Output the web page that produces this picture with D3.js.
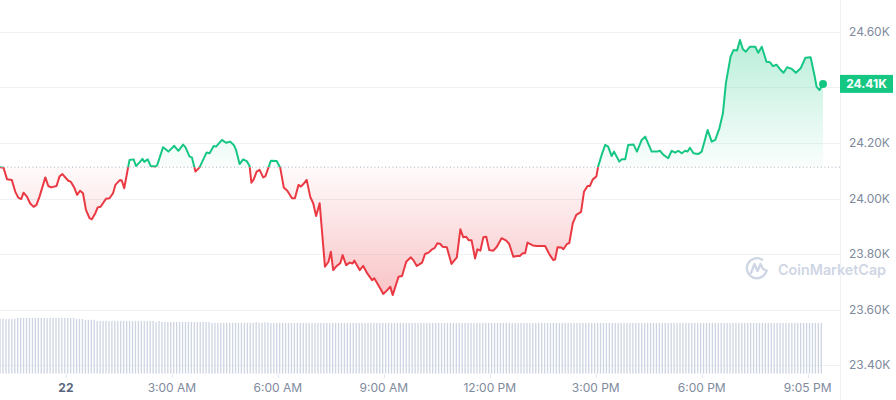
<!DOCTYPE html>
<html><head><meta charset="utf-8">
<script src="https://cdn.jsdelivr.net/npm/d3@7/dist/d3.min.js"></script>
<style>
html,body{margin:0;padding:0;background:#fff;}
svg{display:block;font-family:Inter,"Noto Sans",sans-serif;}
</style>
</head><body>
<svg id="chart" width="896" height="400"></svg>
<script>
// minutes relative to 00:00 on the 22nd
const times = [-112,-106,-100,-92,-86,-81,-76,-72,-66,-61,-55,-50,-45,-35,-30,-25,-16,-11,-6,4,
8,14,19,24,29,34,40,44,50,54,59,68,74,80,84,92,95,99,108,115,
119,125,130,133,139,144,152,155,165,171,174,184,191,199,203,210,214,220,227,239,
244,251,255,265,272,279,285,289,295,301,307,312,315,319,324,329,335,339,348,358,
364,370,376,384,389,395,399,403,409,415,420,425,431,440,446,450,454,460,466,470,
476,482,487,490,499,505,511,520,524,534,539,545,551,555,565,571,578,586,590,596,
605,610,616,622,626,631,636,640,647,655,664,670,675,680,684,689,695,699,704,709,
714,719,726,732,740,748,753,760,766,771,776,780,784,793,800,814,822,828,831,835,
842,845,851,855,861,867,875,880,886,890,895,901,904,910,916,921,927,931,940,944,
950,955,964,970,978,984,995,1004,1009,1015,1023,1029,1035,1040,1046,1052,1056,1060,1066,1074,
1080,1090,1097,1103,1110,1116,1121,1129,1134,1140,1145,1150,1155,1162,1171,1176,1182,1190,1196,1201,
1207,1213,1219,1225,1233,1240,1248,1256,1265,1272,1275,1280,1286];
// price, USD
const prices = [24113,24111,24069,24067,24024,24003,23998,24021,24006,23983,23970,23977,24006,24076,24045,24040,24045,24079,24088,24064,
24061,24040,24013,24028,24019,23959,23929,23925,23947,23968,23970,23999,24001,24019,24049,24067,24064,24037,24139,24141,
24117,24130,24143,24132,24141,24117,24115,24120,24185,24175,24169,24190,24172,24194,24185,24151,24148,24097,24112,24166,
24163,24189,24187,24211,24201,24205,24193,24175,24124,24141,24135,24117,24057,24069,24097,24103,24076,24081,24136,24135,
24111,24040,24028,24001,24001,24049,24043,24051,24067,24006,23983,23937,23983,23754,23772,23808,23742,23757,23767,23796,
23760,23769,23766,23776,23742,23757,23733,23706,23712,23676,23656,23668,23682,23652,23718,23721,23772,23788,23778,23757,
23769,23800,23805,23817,23821,23839,23836,23826,23824,23764,23788,23889,23860,23862,23850,23850,23784,23817,23812,23860,
23862,23814,23812,23826,23857,23848,23836,23790,23793,23793,23803,23803,23841,23831,23829,23829,23796,23778,23781,23824,
23823,23817,23836,23839,23911,23941,23952,24024,24045,24045,24069,24079,24115,24157,24193,24187,24153,24169,24133,24141,
24141,24193,24195,24169,24211,24223,24169,24169,24172,24157,24145,24172,24165,24172,24163,24172,24169,24183,24163,24160,
24169,24247,24205,24211,24253,24307,24415,24511,24535,24533,24571,24538,24529,24547,24547,24525,24547,24493,24491,24477,
24482,24466,24453,24473,24467,24453,24469,24507,24509,24439,24403,24391,24413];
// 24h volume, $B, as [number of 5-minute bars, value]
const volumeRuns = [[6,17.2],[20,17.5],[3,17.2],[4,16.9],[20,16.55],[1,16.2],[1,16.55],[17,16.25],[15,15.95],[1,16.2],[2,15.95],[2,16.1],[188,15.9]];
const priceTicks = [23400,23600,23800,24000,24200,24400,24600];
const priceTickLabels = ["23.40K","23.60K","23.80K","24.00K","24.20K","24.40K","24.60K"];
const timeTicks = [0,180,360,540,720,900,1080,1260];
const timeTickLabels = ["22","3:00 AM","6:00 AM","9:00 AM","12:00 PM","3:00 PM","6:00 PM","9:05 PM"];
const lastPriceLabel = "24.41K";

const GREEN = "#16c784", RED = "#ea3943";
const svg = d3.select("#chart");
const plotRight = 840;

const x = d3.scaleLinear().domain([times[0], times[times.length-1]]).range([0, 823]);
const y = d3.scaleLinear().domain([23400, 24600]).range([365, 32]);
const yv = d3.scaleLinear().domain([0, 20]).range([373.5, 310]);

const data = times.map((t,i)=>({t, p: prices[i]}));
const base = prices[0];
const y0 = y(base);
const last = data[data.length-1];
const yLast = y(last.p);

const defs = svg.append("defs");
defs.append("clipPath").attr("id","clipAbove").append("rect").attr("x",0).attr("y",0).attr("width",plotRight).attr("height",y0);
defs.append("clipPath").attr("id","clipBelow").append("rect").attr("x",0).attr("y",y0).attr("width",plotRight).attr("height",400-y0);
const gG = defs.append("linearGradient").attr("id","gGreen").attr("gradientUnits","userSpaceOnUse")
  .attr("x1",0).attr("x2",0).attr("y1",y(d3.max(prices))).attr("y2",y0);
gG.append("stop").attr("offset",0).attr("stop-color",GREEN).attr("stop-opacity",0.3);
gG.append("stop").attr("offset",1).attr("stop-color",GREEN).attr("stop-opacity",0.02);
const gR = defs.append("linearGradient").attr("id","gRed").attr("gradientUnits","userSpaceOnUse")
  .attr("x1",0).attr("x2",0).attr("y1",y0).attr("y2",y(d3.min(prices)));
gR.append("stop").attr("offset",0).attr("stop-color",RED).attr("stop-opacity",0.02);
gR.append("stop").attr("offset",1).attr("stop-color",RED).attr("stop-opacity",0.3);

// gridlines
svg.append("g").selectAll("line").data(priceTicks).join("line")
  .attr("x1",0).attr("x2",plotRight).attr("y1",d=>Math.round(y(d))+0.5).attr("y2",d=>Math.round(y(d))+0.5)
  .attr("stroke","#eff2f5").attr("stroke-width",1);
// right border
svg.append("line").attr("x1",plotRight+0.5).attr("x2",plotRight+0.5).attr("y1",0).attr("y2",400)
  .attr("stroke","#eff2f5");

// volume bars
const vols = [];
volumeRuns.forEach(([n,v])=>{ for(let k=0;k<n;k++) vols.push(v); });
svg.append("g").selectAll("rect").data(vols).join("rect")
  .attr("x",(d,i)=>x(times[0]+i*5)-0.6).attr("width",1.3)
  .attr("y",d=>yv(d)).attr("height",d=>yv(0)-yv(d))
  .attr("fill","#cdd4e2");

// watermark
const wm = svg.append("g").attr("fill","none").attr("stroke","#cfd6e4").attr("stroke-width",2.4).attr("stroke-linecap","round").attr("stroke-linejoin","round");
wm.append("path").attr("d","M766.5,271 A10,10 0 1 1 762,259.6");
wm.append("path").attr("d","M751,273 L754.5,264 L757.5,271 L760.5,264 L763,269 L766.5,270.5");
svg.append("text").attr("x",778).attr("y",275).attr("font-size",14.3).attr("font-weight",600)
  .attr("fill","#cfd6e4").text("CoinMarketCap");

// areas
const area = d3.area().x(d=>x(d.t)).y0(y0).y1(d=>y(d.p));
svg.append("path").datum(data).attr("d",area).attr("fill","url(#gGreen)").attr("clip-path","url(#clipAbove)");
svg.append("path").datum(data).attr("d",area).attr("fill","url(#gRed)").attr("clip-path","url(#clipBelow)");

// baseline
svg.append("line").attr("x1",0).attr("x2",plotRight).attr("y1",y0).attr("y2",y0)
  .attr("stroke","#a5adbd").attr("stroke-width",1).attr("stroke-dasharray","1,2.6");

// lines
const line = d3.line().x(d=>x(d.t)).y(d=>y(d.p));
svg.append("path").datum(data).attr("d",line).attr("fill","none").attr("stroke",GREEN).attr("stroke-width",2)
  .attr("stroke-linejoin","round").attr("clip-path","url(#clipAbove)");
svg.append("path").datum(data).attr("d",line).attr("fill","none").attr("stroke",RED).attr("stroke-width",2)
  .attr("stroke-linejoin","round").attr("clip-path","url(#clipBelow)");

// last point
svg.append("circle").attr("cx",x(last.t)).attr("cy",yLast).attr("r",4).attr("fill",GREEN);

// y axis labels (the one hidden by the price tag is not drawn)
const shownTicks = priceTicks.map((d,i)=>({d,i})).filter(o=>Math.abs(y(o.d)-yLast)>14);
svg.append("g").selectAll("text").data(shownTicks).join("text")
  .attr("x",849).attr("y",o=>y(o.d)).attr("dy","0.35em").attr("font-size",12).attr("fill","#808a9d")
  .text(o=>priceTickLabels[o.i]);

// last price tag
svg.append("rect").attr("x",840).attr("y",yLast-9).attr("width",53).attr("height",18).attr("fill",GREEN);
svg.append("text").attr("x",866.5).attr("y",yLast).attr("dy","0.35em").attr("text-anchor","middle")
  .attr("font-size",12).attr("font-weight",700).attr("fill","#fff").text(lastPriceLabel);

// x axis ticks & labels
svg.append("g").selectAll("line").data(timeTicks).join("line")
  .attr("x1",d=>Math.round(x(d))+0.5).attr("x2",d=>Math.round(x(d))+0.5).attr("y1",374).attr("y2",378)
  .attr("stroke","#e3e7ee");
svg.append("g").selectAll("text").data(timeTicks).join("text")
  .attr("x",d=>x(d)).attr("y",392).attr("text-anchor","middle").attr("font-size",12)
  .attr("font-weight",(d,i)=>i===0?700:400).attr("fill",(d,i)=>i===0?"#58667e":"#808a9d")
  .text((d,i)=>timeTickLabels[i]);
</script>
</body></html>
